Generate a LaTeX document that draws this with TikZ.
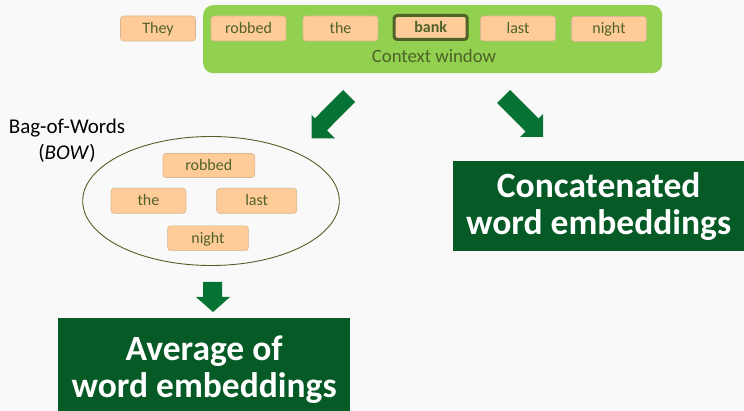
\documentclass[tikz,border=0pt]{standalone}
\usepackage{fontspec}
\setmainfont{Carlito}
\usetikzlibrary{shapes.geometric}
\definecolor{bgc}{HTML}{F9F9F9}
\definecolor{ctxgreen}{HTML}{92D050}
\definecolor{peach}{HTML}{FFCC99}
\definecolor{peachline}{HTML}{D6B690}
\definecolor{olive}{HTML}{4F6228}
\definecolor{arrowgreen}{RGB}{6,114,51}
\definecolor{darkgreen}{RGB}{6,90,38}
\tikzset{
  wordbox/.style={rectangle, rounded corners=3pt, fill=peach, draw=peachline, line width=0.6pt,
    text=olive, minimum height=25pt, minimum width=75pt, inner sep=0pt,
    text height=12pt, text depth=2pt,
    font=\fontsize{16}{18}\selectfont},
  keybox/.style={wordbox, draw=olive, line width=3pt, minimum width=73pt, minimum height=24pt,
    font=\fontsize{16}{18}\selectfont\bfseries},
  ctxbox/.style={rectangle, rounded corners=10pt, fill=ctxgreen, draw=none},
  bagshape/.style={ellipse, draw=olive, line width=0.9pt, inner sep=0pt},
  resultbox/.style={rectangle, fill=darkgreen, draw=none, text=white, align=center, inner sep=0pt,
    font=\fontsize{35.5}{37}\selectfont\bfseries},
  blockarrow/.style={fill=arrowgreen, draw=none},
}
\begin{document}
\begin{tikzpicture}[x=1pt,y=-1pt]
\fill[bgc] (0,0) rectangle (744,411);
\useasboundingbox (0,0) rectangle (744,411);
\clip (0,0) rectangle (744,411);

% context window
\node[ctxbox, minimum width=459pt, minimum height=68pt, anchor=north west] (ctx) at (203,5) {};
\node[text=olive, font=\fontsize{18.8}{21}\selectfont, inner sep=0pt] (ctxlabel) at (434,56) {Context window};

% sentence words
\node[wordbox] (w1) at (158,28.5) {They};
\node[wordbox] (w2) at (248.5,28.5) {robbed};
\node[wordbox] (w3) at (340.5,28.5) {the};
\node[keybox] (w4) at (430.7,27.5) {bank};
\node[wordbox] (w5) at (518,28.5) {last};
\node[wordbox] (w6) at (609,29) {night};

% bag of words
\node[bagshape, minimum width=256.6pt, minimum height=129pt] (bag) at (211,201) {};
\node[wordbox, minimum width=92pt, minimum height=24pt] (b1) at (208.8,165.5) {robbed};
\node[wordbox, minimum width=75pt] (b2) at (148.5,200.8) {the};
\node[wordbox, minimum width=80pt] (b3) at (256.7,200.8) {last};
\node[wordbox, minimum width=80.7pt, minimum height=24.7pt] (b4) at (208,238.3) {night};
\node[align=center, inner sep=0pt, font=\fontsize{21}{26.3}\selectfont] (bowlabel) at (67,140.6) {Bag-of-Words\\(\textit{BOW})};

% block arrows
\fill[blockarrow] (343,90) -- (355,102) -- (327,130.3) -- (335,138.3) -- (311.7,138.3)
  -- (311.7,115) -- (315,118.3) -- cycle;
\fill[blockarrow] (497,103) -- (510,90) -- (538.5,118.5) -- (543,114) -- (543,137)
  -- (520,137) -- (525.5,131.5) -- cycle;
\fill[blockarrow] (203,282) -- (222,282) -- (222,297) -- (230,297) -- (213,312)
  -- (196,297) -- (203,297) -- cycle;

% result boxes
\node[resultbox, minimum width=292pt, minimum height=103pt, anchor=north west] (avg) at (58,318) {Average of\\word embeddings};
\node[resultbox, minimum width=291pt, minimum height=90pt, anchor=north west] (concat) at (453,161) {Concatenated\\word embeddings};
\end{tikzpicture}
\end{document}
